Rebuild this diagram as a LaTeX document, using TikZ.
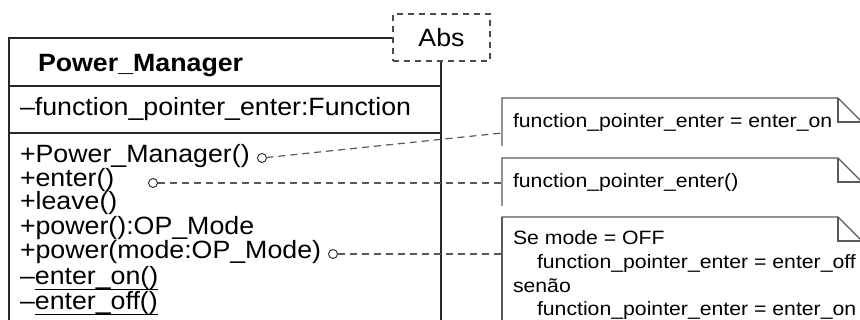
\documentclass[tikz,border=0pt]{standalone}
\usepackage{fontspec}
\setmainfont{Liberation Sans}
\newfontfamily\clsfont[FakeStretch=1.07]{Liberation Sans}
\newfontfamily\notefont[FakeStretch=1.1]{Liberation Sans}
\newcommand\myul[1]{\setbox0=\hbox{#1}\rlap{\rule[-5pt]{\wd0}{1.3pt}}\box0}
\begin{document}
\begin{tikzpicture}[x=1pt,y=-1pt,
  every node/.style={inner sep=0pt, outer sep=0pt},
  clstext/.style={anchor=base west, font=\clsfont\fontsize{25}{25}\selectfont, text=black},
  clstitle/.style={anchor=base west, font=\clsfont\bfseries\fontsize{25}{25}\selectfont, text=black},
  notetext/.style={anchor=base west, font=\notefont\fontsize{19.3}{24}\selectfont, text=black},
  clsline/.style={draw=black!85, line width=1.3pt},
  noteline/.style={draw=black!65, line width=1.2pt},
  notebox/.style={draw=none, anchor=north west},
  dashline/.style={draw=black!65, line width=1.2pt, dash pattern=on 7pt off 5pt},
  port/.style={circle, draw=black!85, line width=0.9pt, fill=white, minimum size=9pt},
  stereo/.style={draw=black!70, line width=1.2pt, dash pattern=on 6pt off 5pt, fill=white,
    minimum width=97pt, minimum height=47pt, font=\clsfont\fontsize{25}{25}\selectfont}]
\useasboundingbox (0,0) rectangle (860,320);
\fill[white] (0,0) rectangle (860,320);

% class box
\node[clsline, anchor=north west, minimum width=432pt, minimum height=300pt] (cls) at (9,38) {};
\draw[clsline] (cls.west |- 0,86) -- (cls.east |- 0,86);
\draw[clsline] (cls.west |- 0,133) -- (cls.east |- 0,133);
\node[stereo] (abs) at (441.5,37.5) {Abs};

\node[clstitle] (title) at (38,72) {Power\_Manager};
\node[clstext] (attr) at (20,116) {–function\_pointer\_enter:Function};
\node[clstext] (op1) at (20,163) {+Power\_Manager()};
\node[clstext] (op2) at (20,187) {+enter()};
\node[clstext] (op3) at (20,210) {+leave()};
\node[clstext] (op4) at (20,235) {+power():OP\_Mode};
\node[clstext] (op5) at (20,259) {+power(mode:OP\_Mode)};
\node[clstext] (op6) at (20,285) {–\myul{enter\_on()}};
\node[clstext] (op7) at (20,310) {–\myul{enter\_off()}};

% notes
\node[notebox, minimum width=360pt, minimum height=48pt] (n1) at (502,98) {};
\node[notebox, minimum width=360pt, minimum height=48pt] (n2) at (502,158) {};
\node[notebox, minimum width=360pt, minimum height=130pt] (n3) at (502,217) {};
\foreach \n in {n1,n2,n3}{
  \draw[noteline] (\n.south west) -- (\n.north west) -- ([xshift=-24pt]\n.north east)
    -- ([yshift=-24pt]\n.north east) -- (\n.south east);
  \draw[noteline] ([xshift=-24pt]\n.north east) -- ([xshift=-24pt,yshift=-24pt]\n.north east)
    -- ([yshift=-24pt]\n.north east);
}
\draw[noteline] (n3.south west) -- (n3.north west);

\node[notetext] (t1) at (513,128) {function\_pointer\_enter = enter\_on};
\node[notetext] (t2) at (513,188) {function\_pointer\_enter()};
\node[notetext] (t3a) at (513,245) {Se mode = OFF};
\node[notetext] (t3b) at (537,269) {function\_pointer\_enter = enter\_off};
\node[notetext] (t3c) at (513,293) {senão};
\node[notetext] (t3d) at (537,316) {function\_pointer\_enter = enter\_on};

% ports and connectors
\node[port] (c1) at (262,158) {};
\node[port] (c2) at (153,183) {};
\node[port] (c3) at (333,254) {};
\draw[dashline] (c1) -- ([yshift=-11pt]n1.west);
\draw[dashline] (c2) -- (c2 -| n2.west);
\draw[dashline] (c3) -- (c3 -| n3.west);
\end{tikzpicture}
\end{document}
